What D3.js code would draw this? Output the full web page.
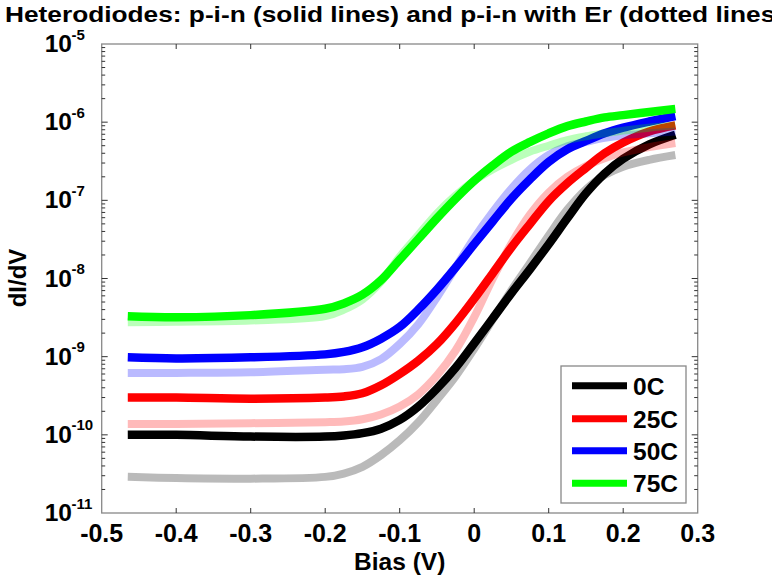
<!DOCTYPE html>
<html><head><meta charset="utf-8">
<script src="https://cdn.jsdelivr.net/npm/d3@7"></script>
<style>
html,body{margin:0;padding:0;background:#fff;}
svg{display:block;font-family:"Liberation Sans",Arial,sans-serif;font-weight:bold;}
</style></head>
<body>
<svg id="c" width="772" height="577"></svg>
<script>
const bias = [-0.465, -0.4, -0.3, -0.2, -0.175, -0.15, -0.125, -0.1, -0.075, -0.05, -0.025, 0, 0.025, 0.05, 0.075, 0.1, 0.125, 0.15, 0.175, 0.2, 0.235, 0.27];
const labels = ["0C", "25C", "50C", "75C"];
const colors = ["#000000", "#ff0000", "#0000ff", "#00ff00"];
// p-i-n (solid lines), dI/dV
const solid0C  = [1.0e-10, 1.0e-10, 9.5e-11, 9.5e-11, 9.8e-11, 1.05e-10, 1.2e-10, 1.55e-10, 2.3e-10, 3.9e-10, 7.2e-10, 1.48e-9, 3.1e-9, 6.5e-9, 1.32e-8, 2.75e-8, 5.9e-8, 1.23e-7, 2.2e-7, 3.4e-7, 5.2e-7, 6.9e-7];
const solid25C = [3.0e-10, 3.0e-10, 2.9e-10, 3.0e-10, 3.1e-10, 3.4e-10, 4.3e-10, 6.0e-10, 8.9e-10, 1.45e-9, 2.7e-9, 5.5e-9, 1.17e-8, 2.5e-8, 5.0e-8, 9.8e-8, 1.66e-7, 2.6e-7, 4.0e-7, 5.5e-7, 7.6e-7, 9.1e-7];
const solid50C = [9.8e-10, 9.5e-10, 9.8e-10, 1.07e-9, 1.15e-9, 1.32e-9, 1.7e-9, 2.4e-9, 4.0e-9, 7.2e-9, 1.38e-8, 2.75e-8, 5.4e-8, 1.05e-7, 1.86e-7, 3.1e-7, 4.5e-7, 5.75e-7, 7.2e-7, 8.5e-7, 1.02e-6, 1.2e-6];
const solid75C = [3.3e-9, 3.2e-9, 3.4e-9, 4.1e-9, 4.8e-9, 6.2e-9, 9.5e-9, 1.74e-8, 3.2e-8, 5.9e-8, 1.05e-7, 1.78e-7, 2.8e-7, 4.2e-7, 5.6e-7, 7.2e-7, 8.9e-7, 1.02e-6, 1.15e-6, 1.23e-6, 1.35e-6, 1.48e-6];
// p-i-n with Er (dotted lines)
const er0C  = [2.9e-11, 2.8e-11, 2.75e-11, 2.9e-11, 3.2e-11, 3.9e-11, 5.5e-11, 8.5e-11, 1.45e-10, 2.8e-10, 5.6e-10, 1.26e-9, 3.0e-9, 7.1e-9, 1.58e-8, 3.55e-8, 7.6e-8, 1.38e-7, 2.1e-7, 2.7e-7, 3.3e-7, 3.8e-7];
const er25C = [1.38e-10, 1.38e-10, 1.41e-10, 1.45e-10, 1.48e-10, 1.58e-10, 1.82e-10, 2.3e-10, 3.3e-10, 5.75e-10, 1.2e-9, 3.2e-9, 1.0e-8, 2.8e-8, 6.6e-8, 1.26e-7, 2.0e-7, 2.75e-7, 3.45e-7, 4.1e-7, 4.8e-7, 5.4e-7];
const er50C = [6.2e-10, 6.2e-10, 6.3e-10, 6.8e-10, 6.9e-10, 7.4e-10, 9.3e-10, 1.45e-9, 2.6e-9, 5.75e-9, 1.38e-8, 3.3e-8, 7.1e-8, 1.41e-7, 2.5e-7, 3.8e-7, 4.9e-7, 5.6e-7, 6.3e-7, 6.8e-7, 7.2e-7, 7.6e-7];
const er75C = [2.75e-9, 2.8e-9, 2.9e-9, 3.3e-9, 4.0e-9, 5.4e-9, 9.1e-9, 1.9e-8, 3.6e-8, 6.8e-8, 1.15e-7, 1.78e-7, 2.5e-7, 3.3e-7, 4.2e-7, 5.0e-7, 5.9e-7, 6.6e-7, 7.2e-7, 7.8e-7, 8.5e-7, 9.1e-7];
const xTicks = [-0.5, -0.4, -0.3, -0.2, -0.1, 0, 0.1, 0.2, 0.3];
const xTickLabels = ["-0.5", "-0.4", "-0.3", "-0.2", "-0.1", "0", "0.1", "0.2", "0.3"];
const yExponents = [-5, -6, -7, -8, -9, -10, -11];
const titleText = "Heterodiodes: p-i-n (solid lines) and p-i-n with Er (dotted lines)";
const xLabel = "Bias (V)";
const yLabel = "dI/dV";

const solidSeries = [solid0C, solid25C, solid50C, solid75C];
const erSeries = [er0C, er25C, er50C, er75C];

const L = 101.7, R = 697.7, T = 44, B = 513;
const svg = d3.select("#c");
const x = d3.scaleLinear().domain([-0.5, 0.3]).range([L, R]);
const y = d3.scaleLog().domain([1e-11, 1e-5]).range([B, T]);

svg.append("defs").append("clipPath").attr("id", "clip")
  .append("rect").attr("x", L).attr("y", T).attr("width", R - L).attr("height", B - T);

const line = d3.line().x((d, i) => x(bias[i])).y(d => y(d)).curve(d3.curveCatmullRom.alpha(0.5));
const plot = svg.append("g").attr("clip-path", "url(#clip)");
solidSeries.forEach((s, k) => {
  plot.append("path").attr("d", line(s)).attr("fill", "none")
    .attr("stroke", colors[k]).attr("stroke-width", 8.5).attr("stroke-linejoin", "round");
});
erSeries.forEach((s, k) => {
  plot.append("path").attr("d", line(s)).attr("fill", "none")
    .attr("stroke", colors[k]).attr("stroke-opacity", 0.27).attr("stroke-width", 8)
    .attr("stroke-linejoin", "round");
});

// axes box
const axisG = svg.append("g");
axisG.append("rect").attr("x", L).attr("y", T).attr("width", R - L).attr("height", B - T)
  .attr("fill", "none").attr("stroke", "#888").attr("stroke-width", 1.3);

// x ticks (bottom & top, inward)
xTicks.forEach((t, i) => {
  const px = x(t);
  if (i > 0 && i < xTicks.length - 1) {
    axisG.append("line").attr("x1", px).attr("x2", px).attr("y1", B).attr("y2", B - 5)
      .attr("stroke", "#333").attr("stroke-width", 1);
    axisG.append("line").attr("x1", px).attr("x2", px).attr("y1", T).attr("y2", T + 5)
      .attr("stroke", "#333").attr("stroke-width", 1);
  }
  axisG.append("text").attr("x", px).attr("y", 542).attr("text-anchor", "middle")
    .attr("font-size", 25).attr("fill", "#000").text(xTickLabels[i]);
});

// y ticks (log, major + minor, left & right)
yExponents.forEach(e => {
  const v = Math.pow(10, e);
  const py = y(v);
  if (e > -11 && e < -5) {
    [[L, L + 6], [R, R - 6]].forEach(([a, b]) =>
      axisG.append("line").attr("x1", a).attr("x2", b).attr("y1", py).attr("y2", py)
        .attr("stroke", "#333").attr("stroke-width", 1));
  }
  if (e > -11) {
    for (let m = 2; m <= 9; m++) {
      const pm = y(m * Math.pow(10, e - 1));
      [[L, L + 3.5], [R, R - 3.5]].forEach(([a, b]) =>
        axisG.append("line").attr("x1", a).attr("x2", b).attr("y1", pm).attr("y2", pm)
          .attr("stroke", "#333").attr("stroke-width", 1));
    }
  }
  axisG.append("text").attr("x", 72).attr("y", py + 8).attr("text-anchor", "end")
    .attr("font-size", 24.5).attr("fill", "#000").text("10");
  axisG.append("text").attr("x", 71.5).attr("y", py - 4.5).attr("text-anchor", "start")
    .attr("font-size", 15).attr("fill", "#000").text(String(e));
});

// labels
svg.append("text").attr("x", (L + R) / 2).attr("y", 570).attr("text-anchor", "middle")
  .attr("font-size", 24.5).text(xLabel);
svg.append("text").attr("transform", "translate(26,278) rotate(-90)").attr("text-anchor", "middle")
  .attr("font-size", 24).text(yLabel);
svg.append("text").attr("x", 5).attr("y", 22).attr("text-anchor", "start")
  .attr("font-size", 22).attr("textLength", 779).attr("lengthAdjust", "spacingAndGlyphs")
  .text(titleText);

// legend
const lg = svg.append("g");
lg.append("rect").attr("x", 561).attr("y", 366).attr("width", 125).attr("height", 137)
  .attr("fill", "#fff").attr("stroke", "#888").attr("stroke-width", 1.3);
const ly = [385.7, 418.7, 450.7, 483.3];
labels.forEach((lab, k) => {
  lg.append("line").attr("x1", 572).attr("x2", 627).attr("y1", ly[k]).attr("y2", ly[k])
    .attr("stroke", colors[k]).attr("stroke-width", 7);
  lg.append("text").attr("x", 633).attr("y", ly[k] + 9).attr("font-size", 24.5).text(lab);
});
</script>
</body></html>
